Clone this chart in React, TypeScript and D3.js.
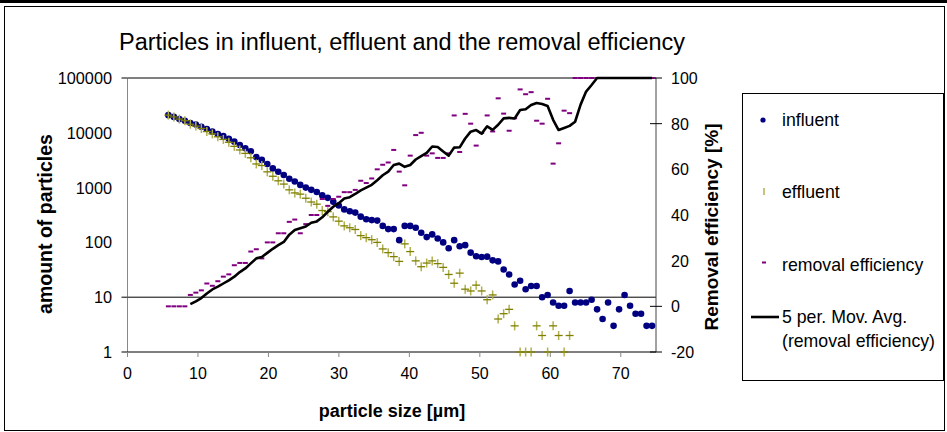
import React from "react";
import * as d3 from "d3";

// Particle size classes [µm]
const sizes = [
  5.8, 6.58, 7.36, 8.14, 8.92, 9.7, 10.48, 11.26, 12.04, 12.82, 13.6, 14.38, 15.16, 15.94, 16.72,
  17.5, 18.28, 19.06, 19.84, 20.62, 21.4, 22.18, 22.96, 23.74, 24.52, 25.3, 26.08, 26.86, 27.64,
  28.42, 29.2, 29.98, 30.76, 31.54, 32.32, 33.1, 33.88, 34.66, 35.44, 36.22, 37.0, 37.78, 38.56,
  39.34, 40.12, 40.9, 41.68, 42.46, 43.24, 44.02, 44.8, 45.58, 46.36, 47.14, 47.92, 48.7, 49.48,
  50.26, 51.04, 51.82, 52.6, 53.38, 54.16, 54.94, 55.72, 56.5, 57.28, 58.06, 58.84, 59.62, 60.4,
  61.18, 61.96, 62.74, 63.52, 64.3, 65.08, 65.86, 66.64, 67.42, 68.2, 68.98, 69.76, 70.54, 71.32,
  72.1, 72.88, 73.66, 74.44,
];

// Particle counts in the influent
const influent = [
  21000, 19500, 17800, 16600, 15100, 14100, 12900, 11700, 10500, 9500, 8700, 7800, 6900, 6000, 5200,
  4600, 3600, 3200, 2700, 2240, 1950, 1700, 1450, 1290, 1120, 1000, 910, 830, 720,
  650, 550, 470, 400, 370, 350, 295, 265, 255, 250, 200, 175, 175, 110,
  200, 200, 185, 150, 125, 140, 118, 100, 78, 110, 85, 89, 65, 56,
  54, 55, 47, 45, 32, 26, 17, 20, 14, 16, 16, 10, 11, 8,
  7, 7, 13, 8, 8, 8, 9, 6, 4, 8, 3, 6, 11, 7,
  5, 5, 3, 3,
];

// Particle counts in the effluent (0 = none counted)
const effluent = [
  21000, 19500, 17800, 16600, 14350, 13250, 12000, 10530, 9550, 8450, 7570, 6710, 5660, 4860, 4210,
  3500, 2700, 2530, 1940, 1610, 1330, 1160, 910, 800, 760, 640, 546, 498, 382,
  364, 292, 244, 200, 185, 172, 133, 122, 112, 100, 76, 65, 55, 45,
  94, 68, 46, 36, 42, 46, 41, 35, 26, 18, 27.5, 14, 13, 16.6,
  13, 9, 11, 4, 5, 6, 3, 1, 1, 1, 3, 2, 1, 3,
  2, 1, 2, 0, 0, 0, 0, 0, 0, 0, 0, 0, 0, 0,
  0, 0, 0, 0,
];

// Removal efficiency [%]
const removal = [
  0, 0, 0, 0, 5, 6, 7, 10, 9, 11, 13, 14, 18, 19, 19,
  24, 25, 21, 28, 28, 32, 32, 37, 38, 32, 36, 40, 40, 47,
  44, 47, 48, 50, 50, 51, 55, 54, 56, 60, 62, 63, 68.5, 59,
  53, 66, 75, 76, 66, 67, 65, 65, 67, 83.6, 67.6, 84.3, 80, 70.4,
  75.9, 83.6, 76.6, 91.1, 84.4, 76.9, 82.4, 95, 92.9, 93.8, 81.3, 80, 90.9, 62.5,
  71.4, 85.7, 84.6, 100, 100, 100, 100, 100, 100, 100, 100, 100, 100, 100,
  100, 100, 100, 100,
];

const xTicks = [0, 10, 20, 30, 40, 50, 60, 70];
const countTicks = [1, 10, 100, 1000, 10000, 100000];
const countTickMarks = [1, 10, 100000];
const countGridLines = [10, 100000];
const pctTicks = [-20, 0, 20, 40, 60, 80, 100];
const pctTickMarks = [-20, 0, 80, 100];

const FONT = "'Liberation Sans', Arial, sans-serif";

export default function App() {
  const W = 947;
  const H = 432;
  const left = 127.5;
  const right = 656;
  const top = 78;
  const bottom = 352;

  const x = d3.scaleLinear().domain([0, 75]).range([left, right]);
  const yCount = d3.scaleLog().domain([1, 100000]).range([bottom, top]);
  const yPct = d3.scaleLinear().domain([-20, 100]).range([bottom, top]);

  // 5-period moving average of the removal efficiency
  const movAvg = removal.map((_, i) =>
    i < 4 ? null : (d3.mean(removal.slice(i - 4, i + 1)) as number)
  );
  const maLine = d3
    .line<number | null>()
    .defined((d) => d !== null)
    .x((_, i) => x(sizes[i]))
    .y((d) => yPct(d as number));

  return (
    <svg
      width={W}
      height={H}
      style={{ position: "absolute", left: 0, top: 0, background: "#fff" }}
      fontFamily={FONT}
    >
      {/* frame */}
      <rect x={0} y={0} width={W} height={H} fill="#fff" />
      <line x1={0} x2={W} y1={1.5} y2={1.5} stroke="#000" strokeWidth={3} />
      <rect x={4.5} y={6.5} width={940} height={424} fill="none" stroke="#000" strokeWidth={1} />

      {/* title */}
      <text x={402} y={50} textAnchor="middle" fontSize={23.5} fill="#000">
        Particles in influent, effluent and the removal efficiency
      </text>

      {/* gridlines */}
      {countGridLines.map((v) => (
        <line key={"g" + v} x1={left} x2={right} y1={yCount(v)} y2={yCount(v)} stroke="#000" strokeWidth={1} />
      ))}

      {/* left axis */}
      <line x1={left} x2={left} y1={top} y2={bottom} stroke="#888" strokeWidth={1} />
      {countTickMarks.map((v) => (
        <line key={"lt" + v} x1={left - 6} x2={left} y1={yCount(v)} y2={yCount(v)} stroke="#000" />
      ))}
      {countTicks.map((v) => (
        <text key={"ll" + v} x={112} y={yCount(v) + 6} textAnchor="end" fontSize={16.3} fill="#000">
          {v}
        </text>
      ))}

      {/* bottom axis */}
      <line x1={left} x2={right} y1={bottom} y2={bottom} stroke="#000" strokeWidth={1} />
      {xTicks.map((v) => (
        <g key={"xt" + v}>
          <line x1={x(v)} x2={x(v)} y1={bottom} y2={bottom + 5} stroke="#888" />
          <text x={x(v)} y={379} textAnchor="middle" fontSize={16} fill="#000">
            {v}
          </text>
        </g>
      ))}

      {/* right axis */}
      <line x1={right} x2={right} y1={top} y2={bottom} stroke="#444" strokeWidth={1} />
      {pctTickMarks.map((v) => (
        <line key={"rt" + v} x1={right - 6} x2={right + 6} y1={yPct(v)} y2={yPct(v)} stroke="#000" />
      ))}
      {pctTicks.map((v) => (
        <text key={"rl" + v} x={671} y={yPct(v) + 6} textAnchor="start" fontSize={16} fill="#000">
          {v}
        </text>
      ))}

      {/* axis titles */}
      <text
        transform={`translate(52, 224) rotate(-90)`}
        textAnchor="middle"
        fontSize={19.5}
        fontWeight="bold"
        fill="#000"
      >
        amount of particles
      </text>
      <text
        transform={`translate(718, 227) rotate(-90)`}
        textAnchor="middle"
        fontSize={19}
        fontWeight="bold"
        fill="#000"
      >
        Removal efficiency [%]
      </text>
      <text x={392} y={417} textAnchor="middle" fontSize={18} fontWeight="bold" fill="#000">
        particle size [µm]
      </text>

      {/* influent */}
      {influent.map((v, i) => (
        <circle key={"in" + i} cx={x(sizes[i])} cy={yCount(v)} r={3.3} fill="#000080" />
      ))}

      {/* effluent */}
      {effluent.map((v, i) =>
        v > 0 ? (
          <g key={"ef" + i}>
            <line
              x1={x(sizes[i])}
              x2={x(sizes[i])}
              y1={yCount(v) - 4.5}
              y2={yCount(v) + 4.5}
              stroke="#b0b050"
              strokeWidth={1.5}
            />
            <line
              x1={x(sizes[i]) - 4}
              x2={x(sizes[i]) + 4}
              y1={yCount(v)}
              y2={yCount(v)}
              stroke="#808000"
              strokeWidth={1.3}
            />
          </g>
        ) : null
      )}

      {/* removal efficiency */}
      {removal.map((v, i) => (
        <rect
          key={"re" + i}
          x={x(sizes[i]) - 2.5}
          y={yPct(v) - 1}
          width={5}
          height={2}
          fill="#800080"
        />
      ))}

      {/* moving average */}
      <path d={maLine(movAvg) || ""} fill="none" stroke="#000" strokeWidth={2.6} strokeLinejoin="round" />

      {/* legend */}
      <rect x={742.5} y={93.5} width={201} height={287} fill="#fff" stroke="#000" strokeWidth={1} />
      <circle cx={763} cy={120} r={2.6} fill="#000080" />
      <text x={782} y={126} fontSize={17.7} fill="#000">influent</text>
      <line x1={764} x2={764} y1={188} y2={195} stroke="#b0b050" strokeWidth={1.5} />
      <text x={782} y={197.5} fontSize={17.7} fill="#000">effluent</text>
      <rect x={762} y={261.5} width={4} height={2} fill="#800080" />
      <text x={782} y={270.5} fontSize={17.7} fill="#000">removal efficiency</text>
      <line x1={751} x2={779} y1={317} y2={317} stroke="#000" strokeWidth={2.6} />
      <text x={782} y={323} fontSize={17.7} fill="#000">5 per. Mov. Avg.</text>
      <text x={782} y={347} fontSize={17.7} fill="#000">(removal efficiency)</text>
    </svg>
  );
}
